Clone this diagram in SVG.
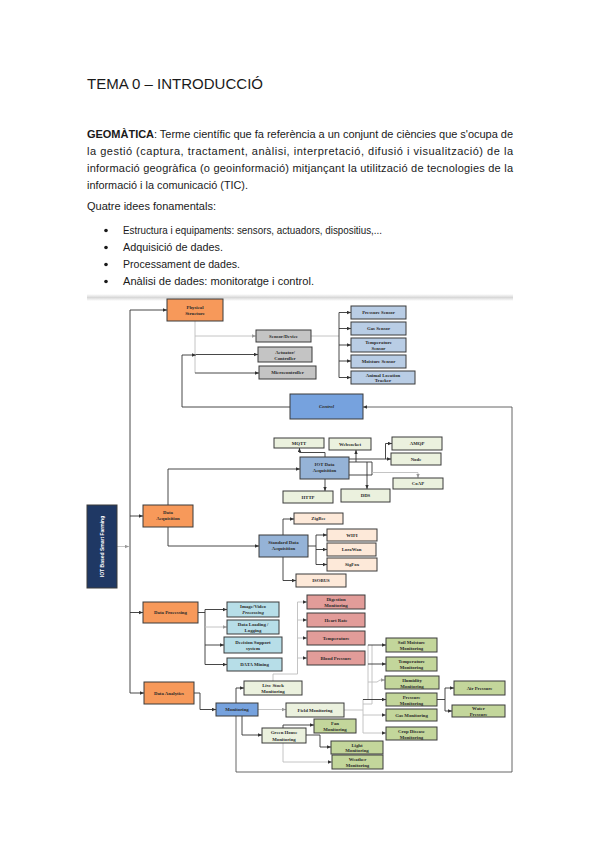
<svg xmlns="http://www.w3.org/2000/svg" width="599" height="848" viewBox="0 0 599 848">
<defs>
<style>
.h{font-family:"Liberation Sans",Arial,sans-serif;fill:#1a1a1a}
.n rect{stroke:#3a3a3a;stroke-width:1}
.n text{font-family:"Liberation Serif","Times New Roman",serif;font-size:4.8px;font-weight:bold;fill:#2a2a2a;text-anchor:middle}
.or{fill:#F7995A}.gy{fill:#C4C4C4}.lb{fill:#B9CDE5}.bl{fill:#76A2DE}.mb{fill:#95B3D7}.cr{fill:#EBF1DE}.pc{fill:#FDE9D9}.cy{fill:#B7DEE8}.pk{fill:#E29C99}.gr{fill:#C3D69B}.nv{fill:#1F3864}
.c path,.c line{fill:none;stroke:#333;stroke-width:0.9}
.c .g{stroke:#BDBDBD}
</style>
<marker id="a" markerWidth="4" markerHeight="4" refX="4" refY="2" orient="auto" markerUnits="userSpaceOnUse"><path d="M0,0.3 L4,2 L0,3.7z" fill="#333"/></marker>
<marker id="ag" markerWidth="4" markerHeight="4" refX="4" refY="2" orient="auto" markerUnits="userSpaceOnUse"><path d="M0,0.3 L4,2 L0,3.7z" fill="#999"/></marker>
<linearGradient id="band" x1="0" y1="0" x2="0" y2="1"><stop offset="0" stop-color="#ffffff"/><stop offset="0.5" stop-color="#d8d8d8"/><stop offset="1" stop-color="#ffffff"/></linearGradient>
</defs>
<rect width="599" height="848" fill="#ffffff"/>

<g id="header">
<text class="h" x="87" y="89" font-size="15" textLength="176" lengthAdjust="spacingAndGlyphs">TEMA 0 – INTRODUCCIÓ</text>
<text class="h" x="87" y="138" font-size="11" textLength="426" lengthAdjust="spacing"><tspan font-weight="bold">GEOMÀTICA</tspan>: Terme científic que fa referència a un conjunt de ciències que s'ocupa de</text>
<text class="h" x="87" y="155" font-size="11" textLength="426" lengthAdjust="spacing">la gestió (captura, tractament, anàlisi, interpretació, difusió i visualització) de la</text>
<text class="h" x="87" y="172" font-size="11" textLength="426" lengthAdjust="spacing">informació geogràfica (o geoinformació) mitjançant la utilització de tecnologies de la</text>
<text class="h" x="87" y="189" font-size="11" textLength="161" lengthAdjust="spacingAndGlyphs">informació i la comunicació (TIC).</text>
<text class="h" x="87" y="210" font-size="11" textLength="129" lengthAdjust="spacingAndGlyphs">Quatre idees fonamentals:</text>
<circle cx="106" cy="230.5" r="1.8" fill="#1a1a1a"/>
<circle cx="106" cy="247.5" r="1.8" fill="#1a1a1a"/>
<circle cx="106" cy="264.5" r="1.8" fill="#1a1a1a"/>
<circle cx="106" cy="281.5" r="1.8" fill="#1a1a1a"/>
<text class="h" x="123" y="234" font-size="11" textLength="259" lengthAdjust="spacingAndGlyphs">Estructura i equipaments: sensors, actuadors, dispositius,...</text>
<text class="h" x="123" y="251" font-size="11" textLength="100" lengthAdjust="spacingAndGlyphs">Adquisició de dades.</text>
<text class="h" x="123" y="268" font-size="11" textLength="117" lengthAdjust="spacingAndGlyphs">Processament de dades.</text>
<text class="h" x="123" y="285" font-size="11" textLength="191" lengthAdjust="spacingAndGlyphs">Anàlisi de dades: monitoratge i control.</text>
</g>

<rect x="87" y="294" width="426" height="7" fill="url(#band)"/>

<g class="c" id="connectors">
<path d="M130,693 V310 H167" marker-end="url(#a)"/>
<line x1="130" y1="516" x2="143" y2="516" marker-end="url(#a)"/>
<line x1="130" y1="612.5" x2="143" y2="612.5" marker-end="url(#a)"/>
<line x1="130" y1="693" x2="144" y2="693" marker-end="url(#a)"/>
<line class="g" x1="117" y1="546.5" x2="129" y2="546.5" marker-end="url(#ag)"/>
<path class="g" d="M195,321 V373"/>
<path class="g" d="M195,336 H256" marker-end="url(#ag)"/>
<path d="M195,373 H259" marker-end="url(#a)"/>
<path d="M196,354.5 H258" marker-end="url(#a)"/>
<path d="M290,407 H182 V355 H196" marker-end="url(#a)"/>
<path class="g" d="M311,336 H339"/>
<path d="M339,312.5 V377.5"/>
<line x1="339" y1="312.5" x2="351" y2="312.5" marker-end="url(#a)"/>
<line x1="339" y1="328.5" x2="351" y2="328.5" marker-end="url(#a)"/>
<line x1="339" y1="345" x2="351" y2="345" marker-end="url(#a)"/>
<line x1="339" y1="361" x2="351" y2="361" marker-end="url(#a)"/>
<line x1="339" y1="377.5" x2="351" y2="377.5" marker-end="url(#a)"/>
<path style="stroke:#555" d="M236,716 V772 H512 V407 H363" marker-end="url(#a)"/>
<path d="M168,505 V469 H300" marker-end="url(#a)"/>
<path d="M168,527 V546 H259" marker-end="url(#a)"/>
<path d="M325,457 V452.5 H299.5 V448" marker-end="url(#a)"/>
<path d="M325,479 V491" marker-end="url(#a)"/>
<path d="M349,462 H372 V475 H349"/>
<path d="M356,462 V450" marker-end="url(#a)"/>
<path d="M367,462 V489" marker-end="url(#a)"/>
<path d="M349,459 H391" marker-end="url(#a)"/>
<path d="M385.5,459 V443.5 H392" marker-end="url(#a)"/>
<path class="g" d="M372,472.5 H418 V478" marker-end="url(#ag)"/>
<path d="M283,535 V519 H294" marker-end="url(#a)"/>
<path d="M283,557 V580.5 H296" marker-end="url(#a)"/>
<path d="M308,546 H316"/>
<path d="M316,535 V564.5"/>
<line x1="316" y1="535" x2="327" y2="535" marker-end="url(#a)"/>
<line x1="316" y1="549.5" x2="327" y2="549.5" marker-end="url(#a)"/>
<line x1="316" y1="564.5" x2="327" y2="564.5" marker-end="url(#a)"/>
<path d="M198,612.5 H205"/>
<path d="M205,609.5 V664.5"/>
<line x1="205" y1="609.5" x2="227" y2="609.5" marker-end="url(#a)"/>
<line class="g" x1="205" y1="627" x2="227" y2="627" marker-end="url(#ag)"/>
<line x1="205" y1="645" x2="224" y2="645" marker-end="url(#a)"/>
<line x1="205" y1="664.5" x2="227" y2="664.5" marker-end="url(#a)"/>
<path class="g" d="M273,681 V674 H297.5 V602"/>
<line class="g" x1="297.5" y1="602" x2="307" y2="602" marker-end="url(#a)"/>
<line class="g" x1="297.5" y1="620" x2="307" y2="620" marker-end="url(#a)"/>
<line class="g" x1="297.5" y1="638" x2="307" y2="638" marker-end="url(#a)"/>
<line class="g" x1="297.5" y1="658" x2="307" y2="658" marker-end="url(#a)"/>
<path d="M194,693 H200 V709.5 H216" marker-end="url(#a)"/>
<path d="M236,703 V688 H244" marker-end="url(#a)"/>
<path class="g" d="M258,709.5 H286" marker-end="url(#ag)"/>
<path d="M242,716 V735 H262" marker-end="url(#a)"/>
<path d="M283,728 V725 H314" marker-end="url(#a)"/>
<path d="M306,735 H320 V747 H331" marker-end="url(#a)"/>
<path class="g" d="M283,743 V762 H332" marker-end="url(#a)"/>
<path class="g" d="M344,710 H363"/>
<path class="g" d="M363,699.5 V733"/>
<path class="g" d="M368,645 V699.5"/>
<path class="g" d="M363,704 H372 V645"/>
<line x1="368" y1="645" x2="386" y2="645" marker-end="url(#a)"/>
<line x1="368" y1="664" x2="386" y2="664" marker-end="url(#a)"/>
<path class="g" d="M368,682 H377 L380,680 H385" marker-end="url(#ag)"/>
<line x1="363" y1="699.5" x2="386" y2="699.5" marker-end="url(#a)"/>
<line class="g" x1="363" y1="715" x2="386" y2="715" marker-end="url(#a)"/>
<line class="g" x1="363" y1="733" x2="386" y2="733" marker-end="url(#a)"/>
<path d="M437,699.5 H445 V688 H454" marker-end="url(#a)"/>
<path d="M445,699.5 V711 H452" marker-end="url(#a)"/>
</g>

<g class="n" id="physical-structure"><rect class="or" x="167" y="299" width="56" height="22"/><text x="195" y="308.5">Physical</text><text x="195" y="314.5">Structure</text></g>
<g class="n" id="sensor-device"><rect class="gy" x="256" y="330" width="55" height="12"/><text x="283.5" y="337.8">Sensor/Device</text></g>
<g class="n" id="actuator"><rect class="gy" x="258" y="347" width="54" height="15"/><text x="285" y="353.5">Actuator/</text><text x="285" y="359.5">Controller</text></g>
<g class="n" id="microcontroller"><rect class="gy" x="259" y="366" width="57" height="13"/><text x="287.5" y="374.2">Microcontroller</text></g>
<g class="n" id="pressure-sensor"><rect class="lb" x="351" y="306" width="55" height="13"/><text x="378.5" y="314.2">Pressure Sensor</text></g>
<g class="n" id="gas-sensor"><rect class="lb" x="351" y="322" width="55" height="13"/><text x="378.5" y="330.2">Gas Sensor</text></g>
<g class="n" id="temperature-sensor"><rect class="lb" x="351" y="338" width="55" height="14"/><text x="378.5" y="344">Temperature</text><text x="378.5" y="349.8">Sensor</text></g>
<g class="n" id="moisture-sensor"><rect class="lb" x="351" y="355" width="55" height="13"/><text x="378.5" y="363.2">Moisture Sensor</text></g>
<g class="n" id="animal-tracker"><rect class="lb" x="351" y="371" width="64" height="13"/><text x="383" y="376.5">Animal Location</text><text x="383" y="382">Tracker</text></g>
<g class="n" id="control"><rect class="bl" x="290" y="394" width="73" height="25"/><text x="326.5" y="408" font-style="italic">Control</text></g>

<g class="n" id="mqtt"><rect class="cr" x="274" y="438" width="50" height="10"/><text x="299" y="444.8">MQTT</text></g>
<g class="n" id="websocket"><rect class="cr" x="329" y="438" width="42" height="12"/><text x="350" y="445.8">Websocket</text></g>
<g class="n" id="amqp"><rect class="cr" x="392" y="437" width="50" height="13"/><text x="417" y="445.3">AMQP</text></g>
<g class="n" id="node"><rect class="cr" x="391" y="453" width="50" height="12"/><text x="416" y="460.8">Node</text></g>
<g class="n" id="iot-data-acquisition"><rect class="mb" x="300" y="457" width="49" height="22"/><text x="324.5" y="466">IOT Data</text><text x="324.5" y="472">Acquisition</text></g>
<g class="n" id="coap"><rect class="cr" x="393" y="478" width="50" height="11"/><text x="418" y="485.3">CoAP</text></g>
<g class="n" id="http"><rect class="cr" x="283" y="491" width="50" height="12"/><text x="308" y="498.8">HTTP</text></g>
<g class="n" id="dds"><rect class="cr" x="341" y="489" width="49" height="13"/><text x="365.5" y="497.3">DDS</text></g>

<g class="n" id="iot-smart-farming"><rect class="nv" x="87" y="505" width="30" height="83"/><text x="0" y="0" transform="translate(103.5,546.5) rotate(-90)" style="fill:#ffffff;font-family:'Liberation Sans',Arial,sans-serif;font-size:5px">IOT Based Smart  Farming</text></g>
<g class="n" id="data-acquisition"><rect class="or" x="143" y="505" width="50" height="22"/><text x="168" y="514">Data</text><text x="168" y="520">Acquisition</text></g>
<g class="n" id="zigbee"><rect class="pc" x="294" y="513" width="49" height="11"/><text x="318.5" y="520.3">ZigBee</text></g>
<g class="n" id="wifi"><rect class="pc" x="327" y="529" width="50" height="12"/><text x="352" y="536.8">WIFI</text></g>
<g class="n" id="lorawan"><rect class="pc" x="327" y="543" width="49" height="13"/><text x="351.5" y="551.3">LoraWan</text></g>
<g class="n" id="sigfox"><rect class="pc" x="327" y="558" width="50" height="13"/><text x="352" y="566.3">SigFox</text></g>
<g class="n" id="standard-data-acquisition"><rect class="mb" x="259" y="535" width="49" height="22"/><text x="283.5" y="544">Standard Data</text><text x="283.5" y="550">Acquisition</text></g>
<g class="n" id="isobus"><rect class="pc" x="296" y="574" width="50" height="13"/><text x="321" y="582.3">ISOBUS</text></g>

<g class="n" id="data-processing"><rect class="or" x="143" y="602" width="55" height="21"/><text x="170.5" y="614.3">Data Processing</text></g>
<g class="n" id="image-video"><rect class="cy" x="227" y="602" width="52" height="15"/><text x="253" y="608.3">Image/Video</text><text x="253" y="614.3" font-style="italic">Processing</text></g>
<g class="n" id="data-loading"><rect class="cy" x="227" y="620" width="52" height="14"/><text x="253" y="626">Data Loading /</text><text x="253" y="632">Logging</text></g>
<g class="n" id="decision-support"><rect class="cy" x="224" y="637" width="58" height="16"/><text x="253" y="644">Decision Support</text><text x="253" y="650">system</text></g>
<g class="n" id="data-mining"><rect class="cy" x="227" y="658" width="55" height="13"/><text x="254.5" y="666.3">DATA Mining</text></g>
<g class="n" id="digestion"><rect class="pk" x="307" y="595" width="58" height="14"/><text x="336" y="601">Digestion</text><text x="336" y="607">Monitoring</text></g>
<g class="n" id="heart-rate"><rect class="pk" x="307" y="613" width="58" height="14"/><text x="336" y="621.5">Heart Rate</text></g>
<g class="n" id="temperature"><rect class="pk" x="307" y="631" width="58" height="14"/><text x="336" y="639.5">Temperature</text></g>
<g class="n" id="blood-pressure"><rect class="pk" x="307" y="651" width="58" height="14"/><text x="336" y="659.5">Blood Pressure</text></g>

<g class="n" id="data-analytics"><rect class="or" x="144" y="682" width="50" height="22"/><text x="169" y="694.5">Data Analytics</text></g>
<g class="n" id="live-stock"><rect class="cr" x="244" y="681" width="58" height="14"/><text x="273" y="687">Live Stock</text><text x="273" y="693">Monitoring</text></g>
<g class="n" id="monitoring"><rect class="bl" x="216" y="703" width="42" height="13"/><text x="237" y="711.2">Monitoring</text></g>
<g class="n" id="field-monitoring"><rect class="cr" x="286" y="703" width="58" height="14"/><text x="315" y="711.6">Field Monitoring</text></g>
<g class="n" id="green-house"><rect class="cr" x="262" y="728" width="44" height="15"/><text x="284" y="734">Green House</text><text x="284" y="740.5">Monitoring</text></g>
<g class="n" id="fan"><rect class="gr" x="314" y="719" width="42" height="14"/><text x="335" y="725">Fan</text><text x="335" y="731">Monitoring</text></g>
<g class="n" id="light"><rect class="gr" x="331" y="741" width="52" height="13"/><text x="357" y="746.5">Light</text><text x="357" y="752">Monitoring</text></g>
<g class="n" id="weather"><rect class="gr" x="332" y="755" width="51" height="14"/><text x="357.5" y="761">Weather</text><text x="357.5" y="767">Monitoring</text></g>
<g class="n" id="soil-moisture"><rect class="gr" x="386" y="638" width="51" height="14"/><text x="411.5" y="644">Soil Moisture</text><text x="411.5" y="650">Monitoring</text></g>
<g class="n" id="temperature-monitoring"><rect class="gr" x="386" y="657" width="51" height="14"/><text x="411.5" y="663">Temperature</text><text x="411.5" y="669">Monitoring</text></g>
<g class="n" id="humidity"><rect class="gr" x="385" y="676" width="54" height="13"/><text x="412" y="681.5">Humidity</text><text x="412" y="687.5">Monitoring</text></g>
<g class="n" id="pressure-monitoring"><rect class="gr" x="386" y="693" width="51" height="13"/><text x="411.5" y="698.5">Pressure</text><text x="411.5" y="704.5">Monitoring</text></g>
<g class="n" id="gas-monitoring"><rect class="gr" x="386" y="709" width="51" height="12"/><text x="411.5" y="716.8">Gas Monitoring</text></g>
<g class="n" id="crop-disease"><rect class="gr" x="386" y="727" width="51" height="13"/><text x="411.5" y="732.5">Crop Disease</text><text x="411.5" y="738.5">Monitoring</text></g>
<g class="n" id="air-pressure"><rect class="gr" x="454" y="681" width="51" height="14"/><text x="479.5" y="689.6">Air Pressure</text></g>
<g class="n" id="water-pressure"><rect class="gr" x="452" y="705" width="53" height="12"/><text x="478.5" y="710">Water</text><text x="478.5" y="715.5">Pressure</text></g>
</svg>
